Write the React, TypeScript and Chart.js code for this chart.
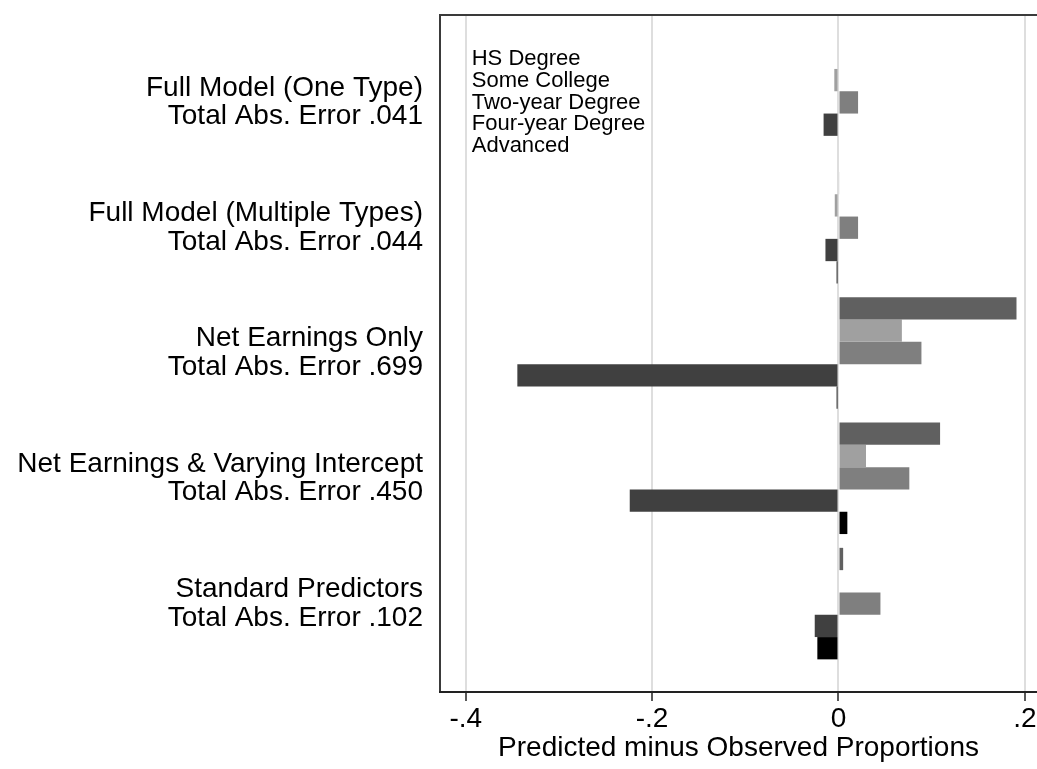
import React, { useEffect, useRef } from "react";
import { Chart, registerables } from "chart.js";

Chart.register(...registerables);

// ---- Data ----
const categories: string[][] = [
  ["Full Model (One Type)", "Total Abs. Error .041"],
  ["Full Model (Multiple Types)", "Total Abs. Error .044"],
  ["Net Earnings Only", "Total Abs. Error .699"],
  ["Net Earnings & Varying Intercept", "Total Abs. Error .450"],
  ["Standard Predictors", "Total Abs. Error .102"],
];

const seriesNames = ["HS Degree", "Some College", "Two-year Degree", "Four-year Degree", "Advanced"];
const seriesColors = ["#606060", "#a0a0a0", "#7f7f7f", "#404040", "#000000"];

const hsDegree = [0, 0.001, 0.191, 0.109, 0.005];
const someCollege = [-0.0045, -0.004, 0.068, 0.0295, 0];
const twoYearDegree = [0.021, 0.021, 0.089, 0.076, 0.045];
const fourYearDegree = [-0.016, -0.014, -0.3446, -0.224, -0.0255];
const advanced = [0, -0.002, -0.002, 0.0095, -0.0227];

const seriesValues = [hsDegree, someCollege, twoYearDegree, fourYearDegree, advanced];

const xTickValues = [-0.4, -0.2, 0, 0.2];
const xTickLabels = ["-.4", "-.2", "0", ".2"];
const xTitle = "Predicted minus Observed Proportions";

const FONT = '"Liberation Sans", Arial, Helvetica, sans-serif';

export default function App() {
  const ref = useRef<HTMLCanvasElement | null>(null);

  useEffect(() => {
    if (!ref.current) return;

    const legendPlugin = {
      id: "textLegend",
      afterDraw(chart: any) {
        const ctx = chart.ctx;
        const xs = chart.scales.x;
        const area = chart.chartArea;
        ctx.save();
        ctx.font = `22px ${FONT}`;
        ctx.fillStyle = "#000";
        ctx.textAlign = "left";
        ctx.textBaseline = "alphabetic";
        const x0 = xs.getPixelForValue(-0.4) + 6;
        seriesNames.forEach((name, i) => {
          ctx.fillText(name, x0, area.top + 50 + i * 21.75);
        });
        ctx.restore();
      },
    };

    const chart = new Chart(ref.current, {
      type: "bar",
      data: {
        datasets: seriesNames.map((name, s) => ({
          label: name,
          data: seriesValues[s].map((v, i) => ({ x: v, y: i })),
          backgroundColor: seriesColors[s],
          borderWidth: 0,
          categoryPercentage: 0.89,
          barPercentage: 1,
        })),
      },
      options: {
        indexAxis: "y",
        animation: false,
        responsive: false,
        maintainAspectRatio: false,
        layout: { padding: { top: 15, left: 0, right: 0, bottom: 0 } },
        plugins: {
          legend: { display: false },
          tooltip: { enabled: false },
        },
        scales: {
          y: {
            type: "linear",
            position: "left",
            reverse: true,
            offset: false,
            min: -0.6975,
            max: 4.7055,
            afterBuildTicks: (scale: any) => {
              scale.ticks = categories.map((_, i) => ({ value: i }));
            },
            afterFit: (scale: any) => {
              scale.width = 440;
              scale.paddingTop = 0;
              scale.paddingBottom = 0;
            },
            grid: { display: false, drawTicks: false, offset: false },
            border: { display: true, color: "#3a3a3a", width: 2 },
            ticks: {
              autoSkip: false,
              padding: 17,
              color: "#000",
              font: { family: FONT, size: 28, lineHeight: 1.02 },
              callback: (v: any) => categories[Number(v)] ?? "",
            },
          },
          x: {
            type: "linear",
            position: "bottom",
            min: -0.4276,
            max: 0.213,
            afterBuildTicks: (scale: any) => {
              scale.ticks = xTickValues.map((v) => ({ value: v }));
            },
            afterFit: (scale: any) => {
              scale.height = 77;
              scale.paddingLeft = 0;
              scale.paddingRight = 0;
            },
            grid: {
              color: "#dedede",
              lineWidth: 2,
              tickColor: "#222",
              tickLength: 9,
              tickWidth: 1.5,
            },
            border: { display: true, color: "#222", width: 2 },
            ticks: {
              autoSkip: false,
              maxRotation: 0,
              padding: 4,
              color: "#000",
              font: { family: FONT, size: 28, lineHeight: 1 },
              callback: (v: any) => {
                const idx = xTickValues.findIndex((t) => Math.abs(t - Number(v)) < 1e-9);
                return idx >= 0 ? xTickLabels[idx] : "";
              },
            },
            title: {
              display: true,
              text: xTitle,
              color: "#000",
              font: { family: FONT, size: 28, lineHeight: 1 },
              padding: { top: 0, bottom: 7 },
            },
          },
          x2: {
            type: "linear",
            position: "top",
            min: -0.4276,
            max: 0.213,
            afterFit: (scale: any) => {
              scale.height = 0;
              scale.paddingLeft = 0;
              scale.paddingRight = 0;
            },
            grid: { display: false, drawTicks: false },
            border: { display: true, color: "#3a3a3a", width: 2 },
            ticks: { display: false },
          },
        },
      } as any,
      plugins: [legendPlugin],
    });

    return () => chart.destroy();
  }, []);

  return (
    <div style={{ position: "absolute", left: 0, top: 0, width: 1037, height: 769, background: "#fff" }}>
      <canvas ref={ref} width={1037} height={769} style={{ display: "block", width: 1037, height: 769 }} />
    </div>
  );
}
